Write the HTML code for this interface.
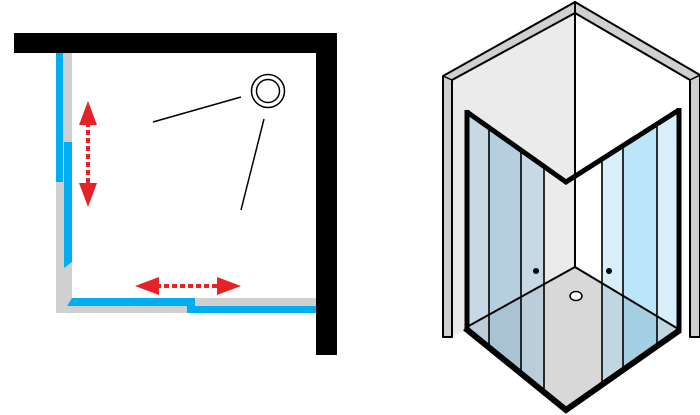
<!DOCTYPE html>
<html><head><meta charset="utf-8"><style>html,body{margin:0;padding:0;background:#fff}svg{display:block}</style></head>
<body>
<svg width="700" height="415" viewBox="0 0 700 415" xmlns="http://www.w3.org/2000/svg">
<rect width="700" height="415" fill="#fff"/>
<!-- LEFT PLAN -->
<rect x="56" y="53" width="16" height="260" fill="#d0d0d0"/>
<rect x="56" y="298" width="260" height="15" fill="#d0d0d0"/>
<rect x="72" y="53" width="244" height="245" fill="#fff"/>
<rect x="56" y="53" width="7" height="129" fill="#00aeef"/>
<polygon points="64,142 72,142 72,262 64,268" fill="#00aeef"/>
<polygon points="72,298 195,298 195,306 67,306" fill="#00aeef"/>
<rect x="187" y="306" width="129" height="7" fill="#00aeef"/>
<rect x="14" y="33" width="323" height="20" fill="#000"/>
<rect x="316" y="33" width="21" height="322" fill="#000"/>
<circle cx="268" cy="91" r="16.5" fill="none" stroke="#000" stroke-width="1.5"/>
<circle cx="268" cy="91" r="11.5" fill="none" stroke="#000" stroke-width="1.5"/>
<line x1="153" y1="122" x2="241" y2="97" stroke="#000" stroke-width="1.5"/>
<line x1="264" y1="119" x2="241" y2="210" stroke="#000" stroke-width="1.5"/>
<line x1="88" y1="122" x2="88" y2="186" stroke="#e42228" stroke-width="4" stroke-dasharray="5,3"/>
<polygon points="88,101 79,125 97,125" fill="#e42228"/>
<polygon points="88,207 79,183 97,183" fill="#e42228"/>
<line x1="156" y1="286" x2="220" y2="286" stroke="#e42228" stroke-width="4" stroke-dasharray="5,3"/>
<polygon points="135,286 159,277 159,295" fill="#e42228"/>
<polygon points="241,286 217,277 217,295" fill="#e42228"/>

<!-- RIGHT ISO -->
<polygon points="575,13 452,80 452,337 575,267" fill="#ebebeb"/>
<polygon points="575,13 690,80 690,337 575,267" fill="#fff"/>
<polygon points="575,267 465,328 566,412 680,330" fill="#d8d8d8"/>
<polygon points="575,2 443,76 443,337 452,337 452,80 575,13" fill="#d0d0d0" stroke="#000" stroke-width="2" stroke-linejoin="round"/>
<line x1="443" y1="76" x2="452" y2="80" stroke="#000" stroke-width="1.5"/>
<polygon points="575,2 700,75 700,337 690,337 690,80 575,13" fill="#d0d0d0" stroke="#000" stroke-width="2" stroke-linejoin="round"/>
<line x1="700" y1="75" x2="690" y2="80" stroke="#000" stroke-width="1.5"/>
<line x1="575" y1="13" x2="575" y2="267" stroke="#000" stroke-width="2"/>
<!-- left glass -->
<polygon points="467,112 489,127.6 489,346.7 467,328" fill="#7fb6d8" opacity="0.33"/>
<polygon points="489,127.6 521,150.2 521,373.8 489,346.7" fill="#5a9fc8" opacity="0.36"/>
<polygon points="521,150.2 544,166.5 544,393.3 521,373.8" fill="#7fb6d8" opacity="0.33"/>
<!-- right glass -->
<polygon points="602,159 623,145.7 623,368.9 602,384" fill="#9ed8f3" opacity="0.4"/>
<polygon points="623,145.7 657,124 657,344.6 623,368.9" fill="#5cc2f0" opacity="0.42"/>
<polygon points="657,124 679,110 679,330.3 657,344.6" fill="#9ed8f3" opacity="0.4"/>
<line x1="575" y1="267" x2="465" y2="328" stroke="#000" stroke-width="2"/>
<line x1="575" y1="267" x2="680" y2="330" stroke="#000" stroke-width="2"/>
<ellipse cx="576" cy="296" rx="6" ry="4.5" fill="#fff" stroke="#000" stroke-width="1.5"/>
<g stroke="#000" stroke-width="1.6">
<line x1="489" y1="127.6" x2="489" y2="346.7"/>
<line x1="521" y1="150.2" x2="521" y2="373.8"/>
<line x1="544" y1="166.5" x2="544" y2="393.3"/>
<line x1="602" y1="159" x2="602" y2="384"/>
<line x1="623" y1="145.7" x2="623" y2="368.9"/>
<line x1="657" y1="124" x2="657" y2="344.6"/>
</g>
<circle cx="536" cy="271" r="3" fill="#000"/>
<circle cx="609" cy="271" r="3" fill="#000"/>
<polyline points="467,112 566,182 679,110" fill="none" stroke="#000" stroke-width="5" stroke-linejoin="miter"/>
<line x1="467" y1="110" x2="467" y2="330" stroke="#000" stroke-width="5"/>
<line x1="679" y1="108" x2="679" y2="332" stroke="#000" stroke-width="5"/>
<polyline points="465,328 566,410 680,330" fill="none" stroke="#000" stroke-width="6" stroke-linejoin="miter"/>
</svg>
</body></html>
